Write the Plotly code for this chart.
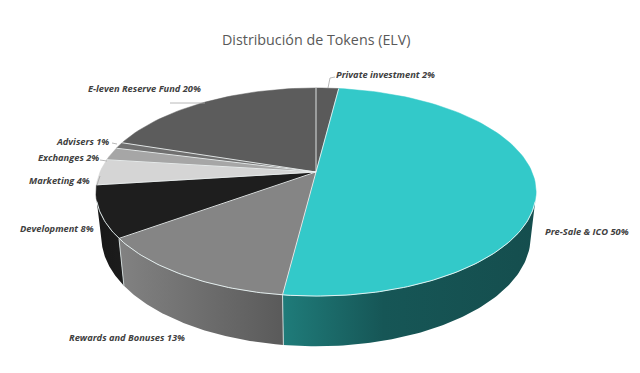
import math
import plotly.graph_objects as go

# --- data ---
categories = ["Private investment", "Pre-Sale & ICO", "Rewards and Bonuses", "Development",
              "Marketing", "Exchanges", "Advisers", "E-leven Reserve Fund"]
values = [2, 50, 13, 8, 4, 2, 1, 20]
title_text = "Distribución de Tokens (ELV)"

# --- styles ---
top_colors = ["#5a5a5a", "#33c9c9", "#858585", "#1e1e1e", "#d5d5d5", "#a6a6a6", "#707070", "#5c5c5c"]
side_grad = {  # slice index -> gradient stops, left-to-right on screen
    1: [[0, "rgb(31,124,122)"], [0.4, "rgb(22,86,86)"], [1, "rgb(21,78,78)"]],
    2: [[0, "rgb(130,130,130)"], [1, "rgb(90,90,90)"]],
    3: [[0, "rgb(24,24,24)"], [1, "rgb(28,28,28)"]],
}
label_layout = [  # anchor x, centre y, side
    (336, 74, "left"), (545, 231, "left"), (185, 337, "right"), (94, 228, "right"),
    (90, 180, "right"), (99, 157, "right"), (109, 141, "right"), (201, 88, "right"),
]
leaders = [
    ([328, 330, 335], [88, 78, 77]),
    ([97, 100], [185, 176]),
    ([100, 107], [160, 161]),
    ([112, 117], [143, 144]),
    ([170, 205], [103, 103]),
]

# --- perspective geometry of the disc ---
CX, CY, A, B, K = 316, 172, 216, 100.2, 0.1923
BOT_SX, BOT_SY, BOT_Y = 0.975, 1.05, 216


def top_pt(pct):
    th = 2 * math.pi * pct / 100
    u, v = math.sin(th), -math.cos(th)
    w = 1 - K * v
    return CX + A * u / w, CY + B * v / w


def bot_pt(pct):
    th = 2 * math.pi * pct / 100
    u, v = math.sin(th), -math.cos(th)
    w = 1 - K * v
    return CX + BOT_SX * A * u / w, BOT_Y + BOT_SY * B * v / w


fig = go.Figure()


def poly(xs, ys, color):
    fig.add_trace(go.Scatter(x=xs, y=ys, mode="lines", fill="toself", fillcolor=color,
                             line=dict(color=color, width=0.5), hoverinfo="skip", showlegend=False))


def stroke(xs, ys, color, width):
    fig.add_trace(go.Scatter(x=xs, y=ys, mode="lines", line=dict(color=color, width=width),
                             hoverinfo="skip", showlegend=False))


# cumulative slice bounds
bounds = [0]
for val in values:
    bounds.append(bounds[-1] + val)

SIDE_START, SIDE_END = 29.5, 70.5

# side wall: one polygon per visible slice, with a horizontal gradient
for i, stops in side_grad.items():
    s0 = max(bounds[i], SIDE_START)
    s1 = min(bounds[i + 1], SIDE_END)
    n = 80
    ps = [s0 + (s1 - s0) * j / n for j in range(n + 1)]
    upper = [top_pt(p) for p in ps]
    lower = [bot_pt(p) for p in reversed(ps)]
    loop = upper + lower + upper[:1]
    xs = [p[0] for p in loop]
    ys = [p[1] for p in loop]
    fig.add_trace(go.Scatter(
        x=xs, y=ys, mode="lines", fill="toself", line=dict(width=0),
        fillgradient=dict(type="horizontal", colorscale=stops, start=min(xs), stop=max(xs)),
        hoverinfo="skip", showlegend=False))

# vertical seams of the wall
for b in bounds:
    if SIDE_START < b < SIDE_END:
        tx, ty = top_pt(b)
        bx, by = bot_pt(b)
        stroke([tx, bx], [ty, by], "rgba(215,225,225,0.9)", 1)

# top face
for i, val in enumerate(values):
    n = max(2, int(val * 2))
    pts = [top_pt(bounds[i] + val * j / n) for j in range(n + 1)]
    xs = [CX] + [p[0] for p in pts] + [CX]
    ys = [CY] + [p[1] for p in pts] + [CY]
    poly(xs, ys, top_colors[i])

# front rim highlight
n = 160
rim = [top_pt(SIDE_START + (SIDE_END - SIDE_START) * j / n) for j in range(n + 1)]
stroke([p[0] for p in rim], [p[1] for p in rim], "rgba(232,242,242,0.95)", 1)

# radial separators
for b in bounds[:-1]:
    tx, ty = top_pt(b)
    stroke([CX, tx], [CY, ty], "rgba(235,240,240,0.9)", 1)

# leader lines
for lx, ly in leaders:
    stroke(lx, ly, "#a6a6a6", 0.8)

annotations = [dict(x=316, y=39, text=title_text, showarrow=False, xanchor="center", yanchor="middle",
                    font=dict(family="Open Sans", size=14.3, color="#595959"))]
for name, val, (lx, ly, side) in zip(categories, values, label_layout):
    annotations.append(dict(
        x=lx, y=ly, text=f"<b><i>{name} {val}%</i></b>", showarrow=False,
        xanchor=side, yanchor="middle",
        font=dict(family="Open Sans", size=9.3, color="#404040"),
        borderpad=0, borderwidth=0))

fig.update_layout(
    width=640, height=373, margin=dict(l=0, r=0, t=0, b=0),
    paper_bgcolor="white", plot_bgcolor="white", showlegend=False,
    xaxis=dict(range=[0, 640], visible=False, fixedrange=True),
    yaxis=dict(range=[373, 0], visible=False, fixedrange=True),
    annotations=annotations,
)
fig.write_html("out.html", config=dict(displayModeBar=False),
               post_script="document.body.style.margin='0';document.body.style.overflow='hidden';")
